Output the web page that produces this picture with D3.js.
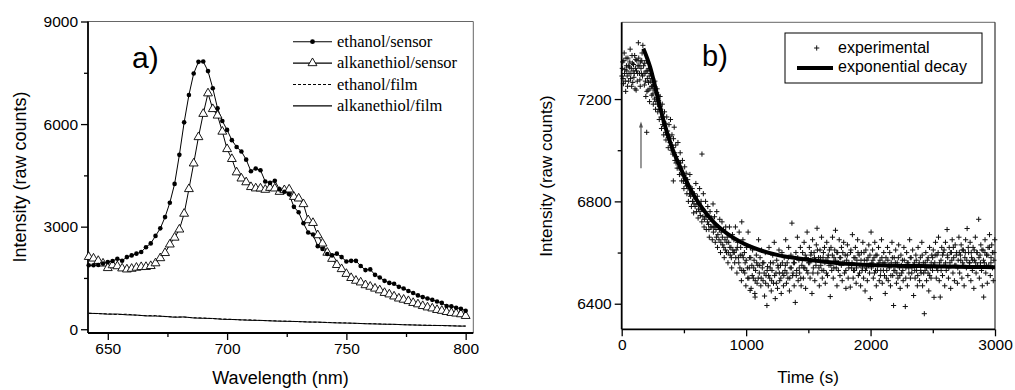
<!DOCTYPE html>
<html><head><meta charset="utf-8">
<script src="https://cdn.jsdelivr.net/npm/d3@7"></script>
<style>
html,body{margin:0;padding:0;background:#fff;}
svg{display:block;}
</style></head>
<body>
<svg id="chart" width="1015" height="390"></svg>
<script>
// ---------- Panel a data ----------
const sensorWl = [642,644,646,648,650,652,654,656,658,660,662,664,666,668,670,672,674,676,678,680,682,684,686,688,690,692,694,696,698,700,702,704,706,708,710,712,714,716,718,720,722,724,726,728,730,732,734,736,738,740,742,744,746,748,750,752,754,756,758,760,762,764,766,768,770,772,774,776,778,780,782,784,786,788,790,792,794,796,798,800];
const ethanolSensor = [1870,1873,1880,1920,1965,1995,2060,2005,2110,2160,2210,2260,2400,2510,2730,2950,3280,3700,4250,5100,6050,6850,7480,7820,7830,7550,7050,6460,6090,5830,5530,5330,5200,4960,4620,4700,4650,4320,4280,4340,4090,4020,3950,3580,3420,3100,2830,2770,2430,2350,2200,2160,2210,2110,1980,2000,2000,1850,1730,1750,1590,1515,1415,1355,1330,1240,1190,1120,1060,990,940,900,860,810,770,680,670,630,600,540];
const alkSensor = [2116,2069,2000,1923,1790,1873,1844,1780,1750,1770,1800,1820,1823,1850,1930,2080,2230,2480,2680,2918,3380,4100,4850,5620,6300,6900,6440,6250,5780,5270,4980,4590,4410,4300,4160,4120,4118,4080,4136,4118,4019,4069,4089,3872,3825,3660,3190,3110,2751,2508,2240,2060,1880,1760,1620,1500,1420,1370,1290,1245,1190,1140,1063,1020,960,900,865,825,770,730,680,640,610,565,540,505,478,460,440,390];
const filmWl = [642,646,650,654,658,662,666,670,674,678,682,686,690,694,698,702,706,710,714,718,722,726,730,734,738,742,746,750,754,758,762,766,770,774,778,782,786,790,794,798,800];
const ethanolFilm = [470,455,450,430,440,410,395,400,370,360,355,335,330,310,300,290,270,275,255,250,240,235,220,215,205,200,190,185,170,165,160,150,140,135,125,120,115,105,100,95,90];
const alkFilm = [465,460,440,445,420,415,390,385,375,350,360,330,320,315,290,285,275,260,260,245,235,230,225,210,210,195,185,180,175,160,155,145,145,130,125,115,110,110,100,90,95];
const aXTicks = [650,700,750,800];
const aYTicks = [0,3000,6000,9000];
const aLegend = ["ethanol/sensor","alkanethiol/sensor","ethanol/film","alkanethiol/film"];

// ---------- Panel b data ----------
const fitPoints = [[174,7398],[228,7326],[282,7222],[335,7118],[402,7013],[469,6935],[549,6851],[630,6785],[737,6720],[845,6675],[952,6642],[1113,6609],[1274,6588],[1435,6576],[1596,6566],[1800,6556],[1998,6551],[2400,6547],[2800,6544],[3000,6543]];
const expPoints = [
[2,7290],[8,7345],[14,7260],[20,7380],[26,7315],[32,7230],[38,7330],[44,7290],[50,7360],[56,7270],[62,7325],[68,7395],[74,7300],[80,7250],[86,7340],[92,7310],[98,7285],[104,7370],[110,7320],[116,7235],[122,7350],[128,7300],[134,7420],[140,7330],[146,7275],[152,7345],[158,7300],[164,7380],[170,7410],
[176,7330],[182,7255],[188,7300],[194,7210],[200,7350],[201,7070],[206,7280],[212,7235],[218,7320],[224,7190],[230,7270],[236,7300],[242,7215],[248,7250],[254,7180],[260,7235],[266,7270],[272,7160],[278,7205],[284,7240],[290,7150],[296,7195],
[302,7120],[308,7210],[314,7160],[320,7085],[326,7180],[332,7130],[338,7060],[344,7150],[350,7105],[356,7040],[362,7130],[368,7075],[374,7010],[380,7100],[386,7055],[392,7120],[398,7000],[404,7060],[410,6985],[415,6880],[416,7045],[422,7090],[428,6960],[434,7020],[440,6975],[446,6930],[452,7030],[458,6950],[464,6905],[470,6990],[476,6930],[482,6880],[488,6960],[494,6900],[500,6850],[506,6935],[512,6870],[518,6910],[524,6830],[530,6885],[536,6800],[542,6860],[548,6905],[554,6820],[560,6780],[566,6850],[572,6800],[578,6755],[584,6830],[590,6780],[596,6870],
[602,6760],[608,6820],[614,6735],[620,6790],[626,6850],[632,6745],[638,6800],[644,6720],[645,6985],[650,6770],[656,6830],[662,6700],[668,6760],[674,6800],[680,6690],[686,6745],[692,6780],[698,6710],[704,6660],[710,6760],[716,6700],[722,6735],[728,6650],[734,6790],[740,6700],[746,6740],[752,6640],[758,6690],[764,6760],[770,6620],[776,6700],[782,6650],[788,6730],[794,6600],[800,6680],[806,6720],[812,6630],[818,6690],[824,6580],[830,6650],[836,6700],[842,6600],[848,6660],[854,6560],[860,6640],[866,6700],[872,6590],[878,6620],[884,6540],[890,6670],[896,6600],
[902,6650],[908,6560],[914,6700],[920,6610],[926,6520],[932,6640],[938,6580],[944,6680],[950,6540],[956,6620],[962,6490],[965,6720],[968,6590],[974,6650],[980,6530],[986,6600],[992,6560],[998,6470],[1004,6620],[1010,6540],[1016,6680],[1022,6500],[1028,6580],[1032,6452],[1034,6620],[1040,6460],[1046,6550],[1052,6610],[1058,6500],[1064,6570],[1070,6440],[1072,6426],[1076,6530],[1082,6590],[1088,6480],[1094,6550],[1100,6650],
[1106,6520],[1112,6580],[1118,6470],[1124,6610],[1130,6540],[1136,6490],[1142,6560],[1148,6430],[1154,6600],[1160,6510],[1167,6393],[1172,6545],[1178,6470],[1184,6620],[1190,6500],[1196,6560],[1202,6450],[1208,6530],[1214,6590],[1220,6480],[1226,6640],[1234,6420],[1240,6520],[1246,6570],[1252,6460],[1258,6540],[1264,6610],[1270,6490],[1276,6550],[1282,6440],[1288,6600],[1294,6520],[1300,6470],[1306,6580],[1312,6530],[1318,6650],[1324,6480],[1330,6560],[1336,6500],[1342,6620],[1348,6450],[1354,6540],[1360,6590],[1368,6715],[1374,6510],[1380,6560],[1386,6470],[1395,6405],[1400,6600],[1406,6530],[1412,6660],[1418,6490],[1424,6570],[1430,6520],[1436,6620],[1442,6470],[1448,6550],[1454,6600],[1460,6500],[1466,6640],[1472,6540],[1478,6460],[1484,6580],[1490,6680],[1496,6520],
[1502,6560],[1508,6620],[1514,6500],[1520,6590],[1529,6440],[1534,6650],[1540,6540],[1546,6600],[1552,6490],[1558,6570],[1564,6630],[1570,6695],[1576,6520],[1582,6580],[1588,6470],[1594,6610],[1600,6550],[1606,6660],[1612,6500],[1618,6580],[1624,6530],[1630,6620],[1636,6480],[1642,6570],[1648,6640],[1654,6510],[1660,6590],[1666,6550],[1676,6428],[1682,6620],[1688,6530],[1694,6660],[1700,6500],[1706,6580],[1712,6610],[1718,6687],[1724,6540],[1730,6470],[1736,6600],[1742,6560],[1748,6650],[1754,6510],[1760,6580],[1766,6620],[1772,6490],[1778,6560],[1784,6640],[1790,6520],[1796,6590],[1802,6460],[1808,6570],[1814,6630],[1820,6500],[1826,6560],[1837,6465],[1842,6610],[1848,6540],[1854,6670],[1860,6500],[1866,6580],[1872,6530],[1878,6620],[1884,6480],[1890,6570],[1896,6650],[1902,6510],[1908,6590],[1914,6550],[1920,6470],[1926,6600],[1932,6530],[1938,6640],[1944,6500],[1950,6570],[1956,6450],[1962,6610],[1968,6540],[1974,6490],[1980,6580],[1986,6630],[1992,6520],[1998,6420],
[2004,6680],[2010,6560],[2016,6610],[2022,6500],[2028,6580],[2034,6640],[2040,6530],[2046,6470],[2052,6590],[2058,6550],[2064,6620],[2070,6490],[2076,6570],[2082,6530],[2088,6650],[2094,6480],[2100,6560],[2106,6600],[2112,6510],[2118,6440],[2124,6580],[2130,6530],[2136,6620],[2142,6490],[2148,6550],[2154,6600],[2160,6470],[2166,6560],[2172,6640],[2178,6510],[2185,6393],[2190,6580],[2196,6530],[2202,6610],[2208,6480],[2214,6560],[2220,6500],[2226,6630],[2232,6540],[2238,6460],[2244,6590],[2250,6520],[2256,6570],[2262,6490],[2268,6620],[2279,6389],[2284,6540],[2290,6600],[2296,6470],[2302,6560],[2308,6520],[2314,6650],[2320,6500],[2326,6580],[2332,6540],[2338,6610],[2346,6432],[2352,6560],[2358,6500],[2364,6590],[2370,6530],[2376,6470],[2382,6620],[2388,6550],[2394,6490],[2400,6580],[2406,6520],[2412,6640],[2418,6470],[2424,6560],[2432,6361],[2438,6530],[2444,6600],[2450,6490],[2456,6570],[2462,6520],[2468,6450],[2474,6620],[2480,6540],[2486,6500],[2492,6590],[2498,6530],
[2504,6610],[2510,6425],[2516,6560],[2522,6640],[2528,6500],[2534,6590],[2540,6530],[2546,6660],[2552,6490],[2560,6426],[2566,6570],[2572,6620],[2578,6510],[2584,6600],[2590,6550],[2596,6470],[2602,6640],[2608,6530],[2615,6690],[2620,6580],[2626,6500],[2632,6620],[2638,6560],[2644,6460],[2650,6600],[2656,6650],[2662,6520],[2668,6580],[2674,6490],[2680,6630],[2686,6550],[2692,6600],[2698,6480],[2704,6570],[2710,6660],[2716,6520],[2722,6590],[2728,6630],[2734,6500],[2740,6560],[2746,6610],[2752,6470],[2758,6580],[2764,6650],[2770,6540],[2776,6694],[2782,6510],[2788,6600],[2794,6560],[2800,6640],[2806,6490],[2812,6580],[2818,6530],[2824,6620],[2830,6460],[2836,6570],[2842,6660],[2848,6520],[2854,6600],[2860,6550],[2869,6730],[2874,6500],[2880,6590],[2886,6630],[2892,6530],[2898,6470],[2904,6610],[2909,6426],[2914,6560],[2920,6650],[2926,6520],[2932,6590],[2938,6480],[2944,6620],[2950,6550],[2956,6670],[2962,6510],[2968,6580],[2974,6630],[2980,6540],[2986,6490],[2992,6600],[2998,6650],
[5,7320],[11,7280],[17,7350],[23,7300],[29,7270],[35,7360],[41,7310],[47,7250],[53,7330],[59,7300],[65,7345],[71,7280],[77,7320],[83,7370],[89,7265],[95,7335],[101,7300],[107,7240],[113,7355],[119,7310],[125,7270],[131,7330],[137,7360],[143,7300],[149,7250],[155,7320],[161,7350],[167,7290],
[179,7300],[185,7340],[191,7270],[197,7310],[203,7230],[209,7310],[215,7265],[221,7290],[227,7240],[233,7300],[239,7250],[245,7280],[251,7220],[257,7265],[263,7200],[269,7240],[275,7190],[281,7225],[287,7180],[293,7215],[299,7160],
[305,7170],[317,7130],[329,7100],[341,7110],[353,7070],[365,7060],[377,7050],[389,7030],[401,7020],[413,7010],[425,6990],[437,6950],[449,6960],[461,6930],[473,6950],[485,6910],[497,6880],[509,6890],[521,6860],[533,6850],[545,6830],[557,6830],[569,6800],[581,6790],[593,6810],
[605,6790],[617,6770],[629,6760],[641,6770],[653,6740],[665,6730],[677,6740],[689,6720],[701,6690],[713,6730],[725,6700],[737,6680],[749,6700],[761,6660],[773,6670],[785,6690],[797,6640],[809,6660],[821,6620],[833,6610],[845,6640],[857,6600],[869,6620],[881,6580],[893,6610],
[905,6600],[917,6580],[929,6620],[941,6560],[953,6590],[965,6530],[977,6580],[989,6520],[1001,6570],[1013,6500],[1025,6540],[1037,6580],[1049,6510],[1061,6540],[1073,6490],[1085,6560],[1097,6500],
[1109,6550],[1121,6500],[1133,6560],[1145,6520],[1157,6480],[1169,6530],[1181,6510],[1193,6540],[1205,6490],[1217,6560],[1229,6510],[1243,6480],[1255,6550],[1267,6520],[1279,6500],[1291,6560],[1303,6510],[1315,6550],[1327,6520],[1339,6580],[1351,6500],[1363,6540],[1377,6520],[1389,6560],[1403,6510],[1415,6580],[1427,6540],[1439,6500],[1451,6570],[1463,6540],[1475,6590],[1487,6530],[1499,6570],
[1511,6560],[1523,6600],[1537,6520],[1549,6580],[1561,6550],[1573,6610],[1585,6540],[1597,6580],[1609,6530],[1621,6600],[1633,6560],[1645,6520],[1657,6580],[1669,6610],[1681,6550],[1693,6590],[1705,6540],[1717,6570],[1729,6600],[1741,6530],[1753,6580],[1765,6550],[1777,6600],[1789,6560],[1801,6530],[1813,6590],[1825,6540],[1839,6600],[1851,6560],[1863,6530],[1875,6580],[1887,6540],[1899,6600],[1911,6520],[1923,6570],[1935,6540],[1947,6600],[1959,6530],[1971,6570],[1983,6550],[1995,6590],
[2007,6540],[2019,6570],[2031,6520],[2043,6590],[2055,6530],[2067,6560],[2079,6510],[2091,6580],[2103,6530],[2115,6560],[2127,6500],[2139,6570],[2151,6540],[2163,6510],[2175,6580],[2187,6530],[2199,6560],[2211,6520],[2223,6580],[2235,6510],[2247,6550],[2259,6530],[2271,6570],[2283,6500],[2295,6560],[2307,6540],[2319,6580],[2331,6520],[2343,6550],[2355,6530],[2367,6570],[2379,6510],[2391,6560],[2403,6530],[2415,6590],[2427,6520],[2439,6560],[2451,6540],[2463,6580],[2475,6510],[2487,6560],[2499,6580],
[2507,6550],[2519,6590],[2531,6540],[2543,6600],[2555,6560],[2567,6530],[2579,6590],[2591,6610],[2603,6560],[2617,6590],[2629,6540],[2641,6600],[2653,6570],[2665,6620],[2677,6550],[2689,6590],[2701,6540],[2713,6600],[2725,6570],[2737,6610],[2749,6550],[2761,6600],[2773,6570],[2785,6620],[2797,6560],[2809,6600],[2821,6570],[2833,6610],[2845,6560],[2857,6600],[2871,6580],[2883,6560],[2895,6610],[2907,6570],[2919,6600],[2931,6550],[2943,6590],[2955,6620],[2967,6560],[2979,6600],[2991,6570]
];
const arrowPoints = [[155,6930],[155,7112]];
const bXTicks = [0,1000,2000,3000];
const bYTicks = [6400,6800,7200];
const bLegend = ["experimental","exponential decay"];

const svg = d3.select("#chart");
const SANS = "'Liberation Sans', Arial, Helvetica, sans-serif";
const SERIF = "'Liberation Serif', 'Times New Roman', serif";

// ================= Panel a =================
const ax = d3.scaleLinear().domain([641.7, 803.2]).range([88, 473.3]);
const ay = d3.scaleLinear().domain([-110, 9000]).range([333, 21.5]);
const ga = svg.append("g");

function styleAxis(g, fs) {
  g.attr("font-family", SANS).attr("font-size", fs);
  g.selectAll("text").attr("fill", "#000");
  g.selectAll("line").attr("stroke", "#000").attr("stroke-width", 1.3);
  g.select(".domain").remove();
}
// frame
ga.append("line").attr("x1", 88).attr("x2", 473.3).attr("y1", 21.5).attr("y2", 21.5).attr("stroke", "#666").attr("stroke-width", 1);
ga.append("line").attr("x1", 473.3).attr("x2", 473.3).attr("y1", 21.5).attr("y2", 333).attr("stroke", "#666").attr("stroke-width", 1);
// minor ticks
ga.append("g").attr("transform", "translate(0,333)")
  .call(d3.axisBottom(ax).tickValues([675, 725, 775]).tickSize(4).tickFormat(""))
  .call(g => styleAxis(g, 15));
ga.append("g").attr("transform", "translate(88,0)")
  .call(d3.axisLeft(ay).tickValues([1500, 4500, 7500]).tickSize(4).tickFormat(""))
  .call(g => styleAxis(g, 15));
ga.append("g").attr("transform", "translate(0,333)")
  .call(d3.axisBottom(ax).tickValues(aXTicks).tickSize(7).tickPadding(3).tickFormat(d3.format("d")))
  .call(g => styleAxis(g, 15.5));
ga.append("g").attr("transform", "translate(88,0)")
  .call(d3.axisLeft(ay).tickValues(aYTicks).tickSize(7).tickPadding(3).tickFormat(d3.format("d")))
  .call(g => styleAxis(g, 15.5));
ga.append("line").attr("x1", 88).attr("x2", 473.3).attr("y1", 333).attr("y2", 333).attr("stroke", "#000").attr("stroke-width", 1.8);
ga.append("line").attr("x1", 88).attr("x2", 88).attr("y1", 21.5).attr("y2", 333).attr("stroke", "#000").attr("stroke-width", 1.8);

// axis labels
ga.append("text").attr("x", 280.5).attr("y", 384).attr("text-anchor", "middle")
  .attr("font-family", SANS).attr("font-size", 18).text("Wavelength (nm)");
ga.append("text").attr("transform", "translate(26,177) rotate(-90)").attr("text-anchor", "middle")
  .attr("font-family", SANS).attr("font-size", 18).text("Intensity (raw counts)");
ga.append("text").attr("x", 132).attr("y", 68).attr("font-family", SANS).attr("font-size", 30).text("a)");

const lineA = (xs, ys) => d3.line().x((d, i) => ax(xs[i])).y(d => ay(d))(ys);
// film curves
ga.append("path").attr("d", lineA(filmWl, alkFilm)).attr("fill", "none").attr("stroke", "#000").attr("stroke-width", 1);
ga.append("path").attr("d", lineA(filmWl, ethanolFilm)).attr("fill", "none").attr("stroke", "#000").attr("stroke-width", 1).attr("stroke-dasharray", "3,2");
// sensor curves
ga.append("path").attr("d", lineA(sensorWl, alkSensor)).attr("fill", "none").attr("stroke", "#000").attr("stroke-width", 1);
ga.append("path").attr("d", lineA(sensorWl, ethanolSensor)).attr("fill", "none").attr("stroke", "#000").attr("stroke-width", 1);
const tri = d3.symbol().type(d3.symbolTriangle).size(34);
ga.append("g").selectAll("path").data(alkSensor).join("path")
  .attr("transform", (d, i) => `translate(${ax(sensorWl[i])},${ay(d)})`)
  .attr("d", tri).attr("fill", "#fff").attr("stroke", "#000").attr("stroke-width", 0.9);
ga.append("g").selectAll("circle").data(ethanolSensor).join("circle")
  .attr("cx", (d, i) => ax(sensorWl[i])).attr("cy", d => ay(d)).attr("r", 2.3).attr("fill", "#000");

// legend a
const legA = ga.append("g");
aLegend.forEach((name, i) => {
  const yy = 41.7 + i * 21.4;
  const l = legA.append("line").attr("x1", 293).attr("x2", 332).attr("y1", yy).attr("y2", yy)
    .attr("stroke", "#000").attr("stroke-width", 1.1);
  if (i === 2) l.attr("stroke-dasharray", "3,2");
  if (i === 0) legA.append("circle").attr("cx", 312.5).attr("cy", yy).attr("r", 2.4).attr("fill", "#000");
  if (i === 1) legA.append("path").attr("transform", `translate(312.5,${yy})`).attr("d", tri)
    .attr("fill", "#fff").attr("stroke", "#000").attr("stroke-width", 0.9);
  legA.append("text").attr("x", 337).attr("y", yy + 5).attr("font-family", SERIF).attr("font-size", 16.5).text(name);
});

// ================= Panel b =================
const bx = d3.scaleLinear().domain([0, 3000]).range([621.7, 995]);
const by = d3.scaleLinear().domain([6300, 7500]).range([329.3, 22.3]);
const gb = svg.append("g");
gb.append("line").attr("x1", 621.7).attr("x2", 995).attr("y1", 22.3).attr("y2", 22.3).attr("stroke", "#666").attr("stroke-width", 1);
gb.append("line").attr("x1", 995).attr("x2", 995).attr("y1", 22.3).attr("y2", 329.3).attr("stroke", "#333").attr("stroke-width", 1.2);
gb.append("g").attr("transform", "translate(0,329.3)")
  .call(d3.axisBottom(bx).tickValues([500, 1500, 2500]).tickSize(4).tickFormat(""))
  .call(g => styleAxis(g, 15));
gb.append("g").attr("transform", "translate(621.7,0)")
  .call(d3.axisLeft(by).tickValues([6600, 7000]).tickSize(4).tickFormat(""))
  .call(g => styleAxis(g, 15));
gb.append("g").attr("transform", "translate(0,329.3)")
  .call(d3.axisBottom(bx).tickValues(bXTicks).tickSize(7).tickPadding(3).tickFormat(d3.format("d")))
  .call(g => styleAxis(g, 15.5));
gb.append("g").attr("transform", "translate(621.7,0)")
  .call(d3.axisLeft(by).tickValues(bYTicks).tickSize(7).tickPadding(3).tickFormat(d3.format("d")))
  .call(g => styleAxis(g, 15.5));

// scatter
gb.append("g").selectAll("path").data(expPoints).join("path")
  .attr("transform", d => `translate(${bx(d[0])},${by(d[1])})`)
  .attr("d", "M-2.6,0H2.6M0,-2.6V2.6").attr("stroke", "#111").attr("stroke-width", 1);
// fit line
gb.append("path").attr("d", d3.line().x(d => bx(d[0])).y(d => by(d[1])).curve(d3.curveMonotoneX)(fitPoints))
  .attr("fill", "none").attr("stroke", "#000").attr("stroke-width", 4);
// arrow
gb.append("line").attr("x1", bx(arrowPoints[0][0])).attr("x2", bx(arrowPoints[1][0]))
  .attr("y1", by(arrowPoints[0][1])).attr("y2", by(arrowPoints[1][1]) + 3)
  .attr("stroke", "#555").attr("stroke-width", 1.2);
gb.append("path").attr("transform", `translate(${bx(arrowPoints[1][0])},${by(arrowPoints[1][1])})`)
  .attr("d", "M0,0L-2,6L2,6Z").attr("fill", "#555");

gb.append("line").attr("x1", 621.7).attr("x2", 995).attr("y1", 329.3).attr("y2", 329.3).attr("stroke", "#000").attr("stroke-width", 1.8);
gb.append("line").attr("x1", 621.7).attr("x2", 621.7).attr("y1", 22.3).attr("y2", 329.3).attr("stroke", "#000").attr("stroke-width", 1.8);

gb.append("text").attr("x", 808).attr("y", 383).attr("text-anchor", "middle")
  .attr("font-family", SANS).attr("font-size", 17).text("Time (s)");
gb.append("text").attr("transform", "translate(552,176) rotate(-90)").attr("text-anchor", "middle")
  .attr("font-family", SANS).attr("font-size", 17).text("Intensity (raw counts)");
gb.append("text").attr("x", 702).attr("y", 66).attr("font-family", SANS).attr("font-size", 29).text("b)");

// legend b
const legB = gb.append("g");
legB.append("rect").attr("x", 785).attr("y", 33).attr("width", 197).attr("height", 50)
  .attr("fill", "#fff").attr("stroke", "#000").attr("stroke-width", 1);
legB.append("path").attr("transform", "translate(816.7,48)").attr("d", "M-2.6,0H2.6M0,-2.6V2.6")
  .attr("stroke", "#111").attr("stroke-width", 1);
legB.append("line").attr("x1", 797).attr("x2", 833).attr("y1", 68).attr("y2", 68).attr("stroke", "#000").attr("stroke-width", 4);
legB.append("text").attr("x", 838).attr("y", 53.3).attr("font-family", SANS).attr("font-size", 16).text(bLegend[0]);
legB.append("text").attr("x", 838).attr("y", 72).attr("font-family", SANS).attr("font-size", 16).text(bLegend[1]);
</script>
</body></html>
